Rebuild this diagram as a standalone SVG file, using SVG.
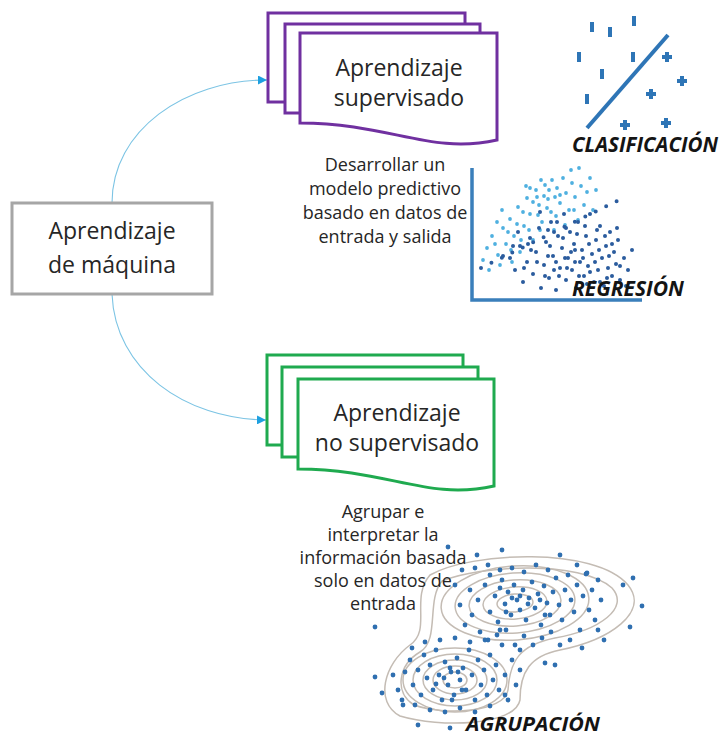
<svg xmlns="http://www.w3.org/2000/svg" width="722" height="738" viewBox="0 0 722 738">
<defs>
<style>
.t{font-family:"Open Sans","Noto Sans",sans-serif;fill:#262626;text-anchor:middle}
.big{font-size:23px}
.sm{font-size:18px}
.lbl{font-family:"Open Sans","Noto Sans",sans-serif;font-size:21px;font-weight:bold;font-style:italic;fill:#141414}
.pd{fill:#fff;stroke:#7030a0;stroke-width:3}
.gd{fill:#fff;stroke:#1faa4f;stroke-width:3}
.conn{fill:none;stroke:#7cc4e4;stroke-width:1.1}
.bar{fill:#2e75b6}
.lt circle{fill:#4fb0e0}
.dk circle{fill:#2b5c9e}
.cl circle{fill:#2f6fb0}
.ct{fill:none;stroke:#c4bcb4;stroke-width:1.5}
</style>
<marker id="ah" viewBox="0 0 10 10" refX="10" refY="5" markerWidth="9" markerHeight="9" markerUnits="userSpaceOnUse" orient="auto">
<path d="M0,0 L10,5 L0,10 Z" fill="#1ea0e0"/>
</marker>
</defs>
<rect width="722" height="738" fill="#fff"/>

<g id="connectors">
<path class="conn" d="M112,203 C112,130 185,80 267,80" marker-end="url(#ah)"/>
<path class="conn" d="M112,294 C115,370 185,419 266,420" marker-end="url(#ah)"/>
</g>

<g id="maquina">
<rect x="12" y="203" width="200" height="91" fill="#fff" stroke="#a6a6a6" stroke-width="3"/>
<text class="t big" x="112" y="239">Aprendizaje</text>
<text class="t big" x="112" y="273">de máquina</text>
</g>

<g id="supervisado">
<rect class="pd" x="268" y="13" width="197" height="89"/>
<rect class="pd" x="285" y="24" width="195" height="89"/>
<path class="pd" d="M300,33 L497,33 L497,140 C430,155 390,123 300,123 Z"/>
<text class="t big" x="399" y="76">Aprendizaje</text>
<text class="t big" x="399" y="106">supervisado</text>
</g>

<g id="desc-sup">
<text class="t sm" x="385" y="171">Desarrollar un</text>
<text class="t sm" x="385" y="195">modelo predictivo</text>
<text class="t sm" x="385" y="219">basado en datos de</text>
<text class="t sm" x="385" y="243">entrada y salida</text>
</g>

<g id="no-supervisado">
<rect class="gd" x="267" y="355" width="196" height="90"/>
<rect class="gd" x="282" y="367" width="196" height="90"/>
<path class="gd" d="M298,379 L494,379 L494,486 C427,501 388,469 298,469 Z"/>
<text class="t big" x="397" y="421">Aprendizaje</text>
<text class="t big" x="397" y="451">no supervisado</text>
</g>

<g id="clasificacion">
<line x1="587" y1="128" x2="668" y2="35" stroke="#2e75b6" stroke-width="4"/>
<rect class="bar" x="590" y="22" width="4" height="10"/>
<rect class="bar" x="608" y="27" width="4" height="10"/>
<rect class="bar" x="632" y="16" width="4" height="10"/>
<rect class="bar" x="577" y="52" width="4" height="10"/>
<rect class="bar" x="631" y="52" width="4" height="10"/>
<rect class="bar" x="600" y="69" width="4" height="10"/>
<rect class="bar" x="585" y="94" width="4" height="10"/>
<path class="bar" d="M662,55h10v4h-10z M665,52h4v10h-4z"/>
<path class="bar" d="M677,79h10v4h-10z M680,76h4v10h-4z"/>
<path class="bar" d="M646,92h10v4h-10z M649,89h4v10h-4z"/>
<path class="bar" d="M620,123h10v4h-10z M623,120h4v10h-4z"/>
<path class="bar" d="M661,121h10v4h-10z M664,118h4v10h-4z"/>
<text class="lbl" x="572" y="152" textLength="146" lengthAdjust="spacingAndGlyphs">CLASIFICACIÓN</text>
</g>

<g id="regresion">
<path d="M472,168 L472,300 L642,300" fill="none" stroke="#3a7fbb" stroke-width="3.5"/>
<g class="lt">
<circle cx="487" cy="248" r="1.9"/><circle cx="492" cy="236" r="1.9"/><circle cx="498" cy="255" r="1.9"/><circle cx="503" cy="228" r="1.9"/><circle cx="506" cy="244" r="1.9"/><circle cx="510" cy="219" r="1.9"/><circle cx="514" cy="236" r="1.9"/><circle cx="518" cy="207" r="1.9"/><circle cx="520" cy="252" r="1.9"/><circle cx="524" cy="226" r="1.9"/><circle cx="527" cy="198" r="1.9"/><circle cx="530" cy="214" r="1.9"/><circle cx="533" cy="240" r="1.9"/><circle cx="536" cy="190" r="1.9"/><circle cx="539" cy="205" r="1.9"/><circle cx="542" cy="222" r="1.9"/><circle cx="545" cy="185" r="1.9"/><circle cx="548" cy="199" r="1.9"/><circle cx="551" cy="212" r="1.9"/><circle cx="554" cy="230" r="1.9"/><circle cx="557" cy="188" r="1.9"/><circle cx="560" cy="203" r="1.9"/><circle cx="563" cy="178" r="1.9"/><circle cx="566" cy="193" r="1.9"/><circle cx="569" cy="210" r="1.9"/><circle cx="572" cy="183" r="1.9"/><circle cx="575" cy="197" r="1.9"/><circle cx="578" cy="220" r="1.9"/><circle cx="581" cy="186" r="1.9"/><circle cx="584" cy="205" r="1.9"/><circle cx="587" cy="192" r="1.9"/><circle cx="590" cy="178" r="1.9"/><circle cx="593" cy="210" r="1.9"/><circle cx="596" cy="190" r="1.9"/><circle cx="500" cy="265" r="1.9"/><circle cx="512" cy="262" r="1.9"/><circle cx="483" cy="260" r="1.9"/><circle cx="495" cy="244" r="1.9"/><circle cx="508" cy="232" r="1.9"/><circle cx="517" cy="224" r="1.9"/><circle cx="523" cy="212" r="1.9"/><circle cx="529" cy="230" r="1.9"/><circle cx="538" cy="215" r="1.9"/><circle cx="547" cy="208" r="1.9"/><circle cx="556" cy="216" r="1.9"/><circle cx="565" cy="225" r="1.9"/><circle cx="574" cy="210" r="1.9"/><circle cx="544" cy="196" r="1.9"/><circle cx="533" cy="202" r="1.9"/><circle cx="521" cy="240" r="1.9"/><circle cx="489" cy="270" r="1.9"/><circle cx="502" cy="210" r="1.9"/><circle cx="526" cy="186" r="1.9"/><circle cx="552" cy="180" r="1.9"/><circle cx="571" cy="170" r="1.9"/><circle cx="579" cy="168" r="1.9"/><circle cx="560" cy="195" r="1.9"/><circle cx="540" cy="230" r="1.9"/><circle cx="511" cy="250" r="1.9"/><circle cx="497" cy="222" r="1.9"/><circle cx="541" cy="180" r="1.9"/><circle cx="549" cy="190" r="1.9"/><circle cx="537" cy="197" r="1.9"/><circle cx="555" cy="197" r="1.9"/><circle cx="530" cy="188" r="1.9"/>
</g>
<g class="dk">
<circle cx="510" cy="258" r="2"/><circle cx="515" cy="270" r="2"/><circle cx="520" cy="246" r="2"/><circle cx="523" cy="282" r="2"/><circle cx="527" cy="262" r="2"/><circle cx="530" cy="238" r="2"/><circle cx="533" cy="274" r="2"/><circle cx="536" cy="252" r="2"/><circle cx="539" cy="228" r="2"/><circle cx="541" cy="288" r="2"/><circle cx="544" cy="265" r="2"/><circle cx="546" cy="242" r="2"/><circle cx="549" cy="278" r="2"/><circle cx="551" cy="222" r="2"/><circle cx="553" cy="256" r="2"/><circle cx="556" cy="290" r="2"/><circle cx="558" cy="236" r="2"/><circle cx="560" cy="268" r="2"/><circle cx="562" cy="248" r="2"/><circle cx="564" cy="214" r="2"/><circle cx="566" cy="280" r="2"/><circle cx="568" cy="258" r="2"/><circle cx="570" cy="232" r="2"/><circle cx="572" cy="270" r="2"/><circle cx="574" cy="244" r="2"/><circle cx="576" cy="288" r="2"/><circle cx="578" cy="222" r="2"/><circle cx="580" cy="262" r="2"/><circle cx="582" cy="250" r="2"/><circle cx="584" cy="276" r="2"/><circle cx="586" cy="236" r="2"/><circle cx="588" cy="266" r="2"/><circle cx="590" cy="214" r="2"/><circle cx="592" cy="254" r="2"/><circle cx="594" cy="282" r="2"/><circle cx="596" cy="240" r="2"/><circle cx="598" cy="270" r="2"/><circle cx="600" cy="226" r="2"/><circle cx="602" cy="258" r="2"/><circle cx="604" cy="286" r="2"/><circle cx="606" cy="246" r="2"/><circle cx="608" cy="268" r="2"/><circle cx="610" cy="232" r="2"/><circle cx="612" cy="276" r="2"/><circle cx="614" cy="252" r="2"/><circle cx="616" cy="264" r="2"/><circle cx="618" cy="240" r="2"/><circle cx="620" cy="280" r="2"/><circle cx="624" cy="258" r="2"/><circle cx="628" cy="270" r="2"/><circle cx="632" cy="250" r="2"/><circle cx="626" cy="286" r="2"/><circle cx="540" cy="212" r="2"/><circle cx="548" cy="230" r="2"/><circle cx="557" cy="222" r="2"/><circle cx="566" cy="228" r="2"/><circle cx="575" cy="262" r="2"/><circle cx="585" cy="226" r="2"/><circle cx="595" cy="262" r="2"/><circle cx="605" cy="236" r="2"/><circle cx="531" cy="250" r="2"/><circle cx="524" cy="268" r="2"/><circle cx="518" cy="232" r="2"/><circle cx="545" cy="276" r="2"/><circle cx="554" cy="270" r="2"/><circle cx="563" cy="238" r="2"/><circle cx="571" cy="252" r="2"/><circle cx="579" cy="276" r="2"/><circle cx="589" cy="244" r="2"/><circle cx="599" cy="250" r="2"/><circle cx="609" cy="256" r="2"/><circle cx="617" cy="228" r="2"/><circle cx="556" cy="262" r="2"/><circle cx="567" cy="268" r="2"/><circle cx="577" cy="234" r="2"/><circle cx="587" cy="284" r="2"/><circle cx="597" cy="230" r="2"/><circle cx="607" cy="278" r="2"/><circle cx="537" cy="262" r="2"/><circle cx="528" cy="244" r="2"/><circle cx="513" cy="246" r="2"/><circle cx="503" cy="256" r="2"/><circle cx="550" cy="246" r="2"/><circle cx="590" cy="272" r="2"/><circle cx="600" cy="282" r="2"/><circle cx="612" cy="244" r="2"/><circle cx="620" cy="266" r="2"/><circle cx="565" cy="258" r="2"/><circle cx="575" cy="250" r="2"/><circle cx="583" cy="258" r="2"/><circle cx="559" cy="276" r="2"/><circle cx="548" cy="256" r="2"/>
</g>
<line x1="481" y1="268" x2="627" y2="196" stroke="#2b5c9e" stroke-width="4" stroke-linecap="round" stroke-dasharray="0 11.63"/>
<text class="lbl" x="572" y="296" textLength="112" lengthAdjust="spacingAndGlyphs">REGRESIÓN</text>
</g>

<g id="agrupacion">
<path class="ct" d="M430,575 C470,552 595,546 628,585 C650,612 610,640 560,650 C530,656 520,672 520,700 C515,726 440,728 400,716 C374,702 384,664 410,645 C432,630 410,598 430,575 Z"/>
<path class="ct" d="M442,581 C480,565 580,560 612,588 C630,608 600,630 555,638 C520,645 510,660 508,690 C505,712 445,716 414,705 C394,693 398,665 420,652 C440,640 426,600 442,581 Z"/>
<g transform="rotate(-4 515 603)">
<ellipse class="ct" cx="515" cy="603" rx="18" ry="9"/>
<ellipse class="ct" cx="515" cy="603" rx="32" ry="16"/>
<ellipse class="ct" cx="515" cy="603" rx="46" ry="23"/>
<ellipse class="ct" cx="515" cy="603" rx="60" ry="30"/>
<ellipse class="ct" cx="515" cy="603" rx="74" ry="37"/>
</g>
<ellipse class="ct" cx="455" cy="680" rx="12" ry="8"/>
<ellipse class="ct" cx="455" cy="680" rx="22" ry="14"/>
<ellipse class="ct" cx="455" cy="680" rx="32" ry="20"/>
<ellipse class="ct" cx="455" cy="680" rx="42" ry="26"/>
<ellipse class="ct" cx="455" cy="680" rx="52" ry="32"/>
<g class="cl">
<circle cx="448" cy="547" r="2.4"/><circle cx="477" cy="555" r="2.4"/><circle cx="502" cy="550" r="2.4"/><circle cx="560" cy="555" r="2.4"/><circle cx="577" cy="565" r="2.4"/><circle cx="587" cy="573" r="2.4"/><circle cx="623" cy="585" r="2.4"/><circle cx="633" cy="578" r="2.4"/><circle cx="642" cy="606" r="2.4"/><circle cx="630" cy="627" r="2.4"/><circle cx="598" cy="630" r="2.4"/><circle cx="582" cy="648" r="2.4"/><circle cx="375" cy="627" r="2.4"/><circle cx="375" cy="677" r="2.4"/><circle cx="382" cy="693" r="2.4"/><circle cx="393" cy="675" r="2.4"/><circle cx="403" cy="705" r="2.4"/><circle cx="418" cy="725" r="2.4"/><circle cx="450" cy="728" r="2.4"/><circle cx="555" cy="665" r="2.4"/><circle cx="545" cy="663" r="2.4"/>
<circle cx="470" cy="590" r="2.4"/><circle cx="478" cy="600" r="2.4"/><circle cx="485" cy="585" r="2.4"/><circle cx="490" cy="612" r="2.4"/><circle cx="495" cy="596" r="2.4"/><circle cx="498" cy="622" r="2.4"/><circle cx="502" cy="580" r="2.4"/><circle cx="505" cy="604" r="2.4"/><circle cx="508" cy="592" r="2.4"/><circle cx="511" cy="615" r="2.4"/><circle cx="514" cy="585" r="2.4"/><circle cx="517" cy="600" r="2.4"/><circle cx="520" cy="610" r="2.4"/><circle cx="523" cy="590" r="2.4"/><circle cx="526" cy="620" r="2.4"/><circle cx="529" cy="598" r="2.4"/><circle cx="532" cy="582" r="2.4"/><circle cx="535" cy="608" r="2.4"/><circle cx="538" cy="594" r="2.4"/><circle cx="541" cy="625" r="2.4"/><circle cx="544" cy="586" r="2.4"/><circle cx="547" cy="603" r="2.4"/><circle cx="550" cy="615" r="2.4"/><circle cx="553" cy="592" r="2.4"/><circle cx="556" cy="578" r="2.4"/><circle cx="559" cy="605" r="2.4"/><circle cx="562" cy="620" r="2.4"/><circle cx="565" cy="590" r="2.4"/><circle cx="568" cy="575" r="2.4"/><circle cx="571" cy="600" r="2.4"/><circle cx="574" cy="612" r="2.4"/><circle cx="577" cy="585" r="2.4"/><circle cx="580" cy="630" r="2.4"/><circle cx="583" cy="596" r="2.4"/><circle cx="586" cy="574" r="2.4"/><circle cx="589" cy="610" r="2.4"/><circle cx="592" cy="590" r="2.4"/><circle cx="595" cy="620" r="2.4"/><circle cx="598" cy="580" r="2.4"/><circle cx="601" cy="600" r="2.4"/><circle cx="604" cy="640" r="2.4"/><circle cx="460" cy="605" r="2.4"/><circle cx="465" cy="625" r="2.4"/><circle cx="472" cy="615" r="2.4"/><circle cx="480" cy="632" r="2.4"/><circle cx="488" cy="640" r="2.4"/><circle cx="497" cy="635" r="2.4"/><circle cx="506" cy="630" r="2.4"/><circle cx="515" cy="645" r="2.4"/><circle cx="524" cy="636" r="2.4"/><circle cx="533" cy="645" r="2.4"/><circle cx="542" cy="638" r="2.4"/><circle cx="551" cy="632" r="2.4"/><circle cx="560" cy="645" r="2.4"/><circle cx="570" cy="640" r="2.4"/><circle cx="455" cy="585" r="2.4"/><circle cx="462" cy="570" r="2.4"/><circle cx="475" cy="568" r="2.4"/><circle cx="488" cy="565" r="2.4"/><circle cx="500" cy="570" r="2.4"/><circle cx="512" cy="568" r="2.4"/><circle cx="524" cy="572" r="2.4"/><circle cx="536" cy="565" r="2.4"/><circle cx="548" cy="570" r="2.4"/><circle cx="512" cy="598" r="2.4"/><circle cx="520" cy="596" r="2.4"/><circle cx="528" cy="604" r="2.4"/><circle cx="506" cy="612" r="2.4"/><circle cx="500" cy="588" r="2.4"/><circle cx="540" cy="600" r="2.4"/><circle cx="545" cy="615" r="2.4"/><circle cx="490" cy="575" r="2.4"/>
<circle cx="405" cy="672" r="2.4"/><circle cx="410" cy="660" r="2.4"/><circle cx="413" cy="685" r="2.4"/><circle cx="418" cy="670" r="2.4"/><circle cx="421" cy="695" r="2.4"/><circle cx="424" cy="655" r="2.4"/><circle cx="427" cy="678" r="2.4"/><circle cx="430" cy="665" r="2.4"/><circle cx="433" cy="690" r="2.4"/><circle cx="436" cy="650" r="2.4"/><circle cx="439" cy="675" r="2.4"/><circle cx="442" cy="700" r="2.4"/><circle cx="445" cy="662" r="2.4"/><circle cx="448" cy="685" r="2.4"/><circle cx="451" cy="672" r="2.4"/><circle cx="454" cy="695" r="2.4"/><circle cx="457" cy="658" r="2.4"/><circle cx="460" cy="680" r="2.4"/><circle cx="463" cy="668" r="2.4"/><circle cx="466" cy="690" r="2.4"/><circle cx="469" cy="650" r="2.4"/><circle cx="472" cy="675" r="2.4"/><circle cx="475" cy="700" r="2.4"/><circle cx="478" cy="660" r="2.4"/><circle cx="481" cy="685" r="2.4"/><circle cx="484" cy="670" r="2.4"/><circle cx="487" cy="695" r="2.4"/><circle cx="490" cy="655" r="2.4"/><circle cx="493" cy="680" r="2.4"/><circle cx="496" cy="665" r="2.4"/><circle cx="499" cy="690" r="2.4"/><circle cx="502" cy="645" r="2.4"/><circle cx="505" cy="675" r="2.4"/><circle cx="508" cy="700" r="2.4"/><circle cx="512" cy="660" r="2.4"/><circle cx="516" cy="685" r="2.4"/><circle cx="520" cy="670" r="2.4"/><circle cx="398" cy="690" r="2.4"/><circle cx="402" cy="700" r="2.4"/><circle cx="415" cy="705" r="2.4"/><circle cx="430" cy="710" r="2.4"/><circle cx="445" cy="712" r="2.4"/><circle cx="460" cy="708" r="2.4"/><circle cx="475" cy="712" r="2.4"/><circle cx="490" cy="706" r="2.4"/><circle cx="505" cy="695" r="2.4"/><circle cx="520" cy="650" r="2.4"/><circle cx="440" cy="640" r="2.4"/><circle cx="455" cy="638" r="2.4"/><circle cx="470" cy="642" r="2.4"/><circle cx="485" cy="640" r="2.4"/><circle cx="500" cy="630" r="2.4"/><circle cx="425" cy="642" r="2.4"/><circle cx="412" cy="648" r="2.4"/><circle cx="450" cy="668" r="2.4"/><circle cx="458" cy="672" r="2.4"/><circle cx="462" cy="690" r="2.4"/><circle cx="444" cy="678" r="2.4"/><circle cx="436" cy="684" r="2.4"/><circle cx="452" cy="700" r="2.4"/>
</g>
<text class="lbl" x="466" y="731" font-size="20" style="font-size:20px" textLength="134" lengthAdjust="spacingAndGlyphs">AGRUPACIÓN</text>
</g>

<g id="desc-nosup">
<text class="t sm" x="383" y="518">Agrupar e</text>
<text class="t sm" x="383" y="541">interpretar la</text>
<text class="t sm" x="383" y="564">información basada</text>
<text class="t sm" x="383" y="587">solo en datos de</text>
<text class="t sm" x="383" y="610">entrada</text>
</g>
</svg>
